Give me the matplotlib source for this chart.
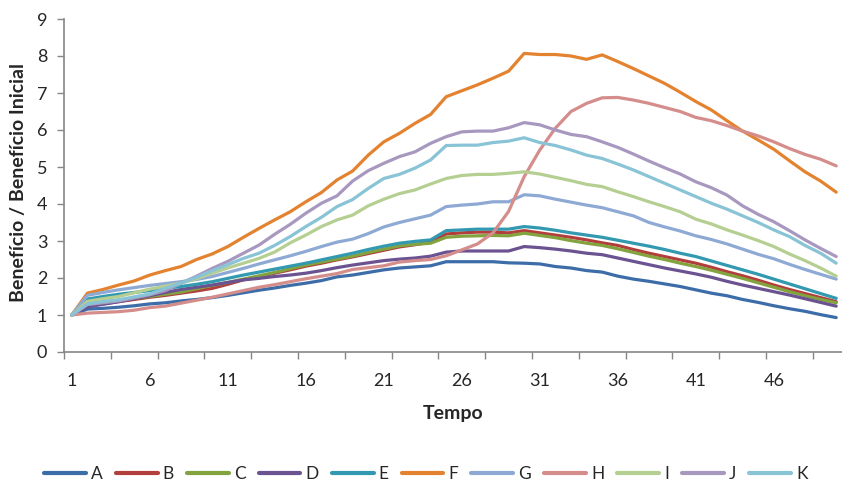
import numpy as np
import matplotlib
matplotlib.use("Agg")
import matplotlib.pyplot as plt

# ----------------------------------------
# Data
# ----------------------------------------
tempo = list(range(1, 51))
series_names = ["A", "B", "C", "D", "E", "F", "G", "H", "I", "J", "K"]

A = [1.00, 1.16, 1.18, 1.21, 1.25, 1.30, 1.33, 1.38, 1.42, 1.47,
     1.53, 1.60, 1.67, 1.73, 1.80, 1.86, 1.93, 2.03, 2.08, 2.15,
     2.22, 2.27, 2.30, 2.33, 2.44, 2.44, 2.44, 2.44, 2.41, 2.40,
     2.38, 2.31, 2.27, 2.20, 2.16, 2.05, 1.97, 1.91, 1.84, 1.77,
     1.68, 1.59, 1.52, 1.42, 1.34, 1.25, 1.17, 1.10, 1.01, 0.93]
B = [1.00, 1.25, 1.30, 1.36, 1.42, 1.48, 1.53, 1.59, 1.65, 1.72,
     1.83, 1.95, 2.04, 2.13, 2.22, 2.32, 2.40, 2.49, 2.57, 2.66,
     2.75, 2.84, 2.90, 2.97, 3.19, 3.22, 3.24, 3.24, 3.22, 3.28,
     3.22, 3.16, 3.10, 3.03, 2.95, 2.88, 2.77, 2.67, 2.58, 2.49,
     2.40, 2.29, 2.17, 2.06, 1.94, 1.81, 1.69, 1.58, 1.47, 1.36]
C = [1.00, 1.30, 1.35, 1.40, 1.45, 1.50, 1.56, 1.62, 1.71, 1.80,
     1.88, 1.97, 2.06, 2.15, 2.25, 2.35, 2.43, 2.51, 2.59, 2.69,
     2.78, 2.87, 2.91, 2.94, 3.10, 3.13, 3.14, 3.15, 3.14, 3.21,
     3.15, 3.09, 3.01, 2.94, 2.88, 2.79, 2.69, 2.59, 2.50, 2.40,
     2.31, 2.21, 2.10, 1.99, 1.87, 1.75, 1.63, 1.52, 1.42, 1.33]
D = [1.00, 1.22, 1.29, 1.36, 1.44, 1.52, 1.61, 1.69, 1.75, 1.81,
     1.88, 1.95, 1.99, 2.04, 2.08, 2.13, 2.20, 2.28, 2.35, 2.41,
     2.47, 2.51, 2.54, 2.59, 2.70, 2.73, 2.73, 2.73, 2.73, 2.85,
     2.82, 2.78, 2.73, 2.67, 2.63, 2.54, 2.45, 2.36, 2.27, 2.19,
     2.11, 2.02, 1.91, 1.81, 1.72, 1.63, 1.54, 1.44, 1.34, 1.24]
E = [1.00, 1.43, 1.50, 1.56, 1.61, 1.66, 1.72, 1.77, 1.83, 1.90,
     1.99, 2.08, 2.16, 2.24, 2.32, 2.40, 2.49, 2.58, 2.67, 2.77,
     2.86, 2.94, 2.99, 3.03, 3.28, 3.30, 3.32, 3.32, 3.32, 3.39,
     3.35, 3.29, 3.22, 3.16, 3.10, 3.02, 2.94, 2.86, 2.77, 2.67,
     2.58, 2.46, 2.34, 2.22, 2.10, 1.97, 1.84, 1.71, 1.58, 1.45]
F = [1.00, 1.59, 1.69, 1.81, 1.92, 2.08, 2.20, 2.31, 2.50, 2.65,
     2.85, 3.10, 3.34, 3.57, 3.79, 4.06, 4.31, 4.65, 4.89, 5.32,
     5.68, 5.91, 6.18, 6.42, 6.90, 7.06, 7.22, 7.40, 7.59, 8.07,
     8.04, 8.04, 8.00, 7.91, 8.03, 7.85, 7.66, 7.46, 7.26, 7.02,
     6.77, 6.54, 6.25, 5.97, 5.73, 5.48, 5.17, 4.87, 4.62, 4.32]
G = [1.00, 1.53, 1.61, 1.68, 1.74, 1.80, 1.85, 1.90, 1.96, 2.04,
     2.15, 2.26, 2.38, 2.49, 2.60, 2.72, 2.85, 2.97, 3.05, 3.20,
     3.38, 3.50, 3.60, 3.70, 3.93, 3.97, 4.00, 4.06, 4.06, 4.25,
     4.22, 4.13, 4.05, 3.97, 3.90, 3.79, 3.68, 3.50, 3.38, 3.27,
     3.14, 3.04, 2.92, 2.78, 2.64, 2.52, 2.37, 2.23, 2.10, 1.97]
H = [1.00, 1.05, 1.07, 1.09, 1.13, 1.20, 1.24, 1.32, 1.40, 1.48,
     1.57, 1.66, 1.75, 1.82, 1.90, 1.98, 2.05, 2.12, 2.23, 2.28,
     2.33, 2.43, 2.47, 2.50, 2.60, 2.76, 2.92, 3.22, 3.80, 4.74,
     5.46, 6.05, 6.50, 6.72, 6.87, 6.88, 6.81, 6.72, 6.61, 6.50,
     6.34, 6.25, 6.12, 5.97, 5.84, 5.68, 5.50, 5.34, 5.21, 5.03]
I = [1.00, 1.37, 1.44, 1.50, 1.60, 1.70, 1.78, 1.86, 1.98, 2.13,
     2.27, 2.40, 2.53, 2.70, 2.95, 3.16, 3.39, 3.57, 3.70, 3.95,
     4.13, 4.28, 4.38, 4.54, 4.69, 4.77, 4.80, 4.80, 4.83, 4.87,
     4.81, 4.72, 4.63, 4.53, 4.47, 4.33, 4.20, 4.06, 3.93, 3.79,
     3.59, 3.46, 3.30, 3.16, 3.01, 2.85, 2.65, 2.47, 2.27, 2.05]
J = [1.00, 1.28, 1.33, 1.38, 1.46, 1.55, 1.66, 1.86, 2.05, 2.26,
     2.45, 2.67, 2.89, 3.18, 3.45, 3.75, 4.02, 4.22, 4.62, 4.90,
     5.10, 5.28, 5.41, 5.64, 5.82, 5.95, 5.97, 5.97, 6.06, 6.20,
     6.14, 6.00, 5.88, 5.82, 5.68, 5.53, 5.35, 5.16, 4.98, 4.81,
     4.60, 4.44, 4.24, 3.95, 3.72, 3.52, 3.28, 3.03, 2.80, 2.58]
K = [1.00, 1.30, 1.36, 1.41, 1.49, 1.57, 1.72, 1.86, 2.02, 2.20,
     2.36, 2.53, 2.67, 2.88, 3.12, 3.39, 3.64, 3.93, 4.12, 4.42,
     4.69, 4.80, 4.97, 5.19, 5.58, 5.59, 5.59, 5.66, 5.70, 5.79,
     5.66, 5.58, 5.46, 5.32, 5.23, 5.08, 4.92, 4.74, 4.56, 4.38,
     4.20, 4.02, 3.86, 3.68, 3.50, 3.30, 3.12, 2.88, 2.67, 2.40]

x_labels = list(range(1, 50, 5))
y_ticks = list(range(0, 10))

# ----------------------------------------
# Style
# ----------------------------------------
colors = ["#3D6DA8", "#B23F3C", "#83A33F", "#6B5290", "#3399B0", "#E3822F",
          "#8EAAD4", "#D48D8B", "#B5CF92", "#A898C0", "#88C3D6"]
axis_gray = "#868686"
text_col = "#262626"
plt.rcParams["font.family"] = ["Lato", "DejaVu Sans"]

fig = plt.figure(figsize=(8.42, 4.87), dpi=100)
ax = fig.add_axes([64 / 842, 135 / 487, 778 / 842, 333 / 487])

all_series = [A, B, C, D, E, F, G, H, I, J, K]
for name, vals, col in zip(series_names, all_series, colors):
    ax.plot(tempo, vals, color=col, lw=2.3, label=name, solid_capstyle="round",
            solid_joinstyle="round")

ax.set_xlim(0.5, 0.5 + 778 / 15.6)
ax.set_ylim(0, 9)

# labels every 5 steps, tick marks every 3 categories (between points)
ax.set_xticks(x_labels)
ax.set_xticklabels([str(v) for v in x_labels])
ax.set_xticks(np.arange(0.5, 50.5, 3), minor=True)
ax.tick_params(axis="x", which="major", length=0, pad=15, labelsize=13, colors=text_col)
ax.tick_params(axis="x", which="minor", length=5, width=1, color=axis_gray, direction="out")
ax.set_yticks(y_ticks)
ax.tick_params(axis="y", length=5, width=1, color=axis_gray, labelsize=13,
               labelcolor=text_col, pad=7)

for s in ["top", "right"]:
    ax.spines[s].set_visible(False)
for s in ["left", "bottom"]:
    ax.spines[s].set_color(axis_gray)
    ax.spines[s].set_linewidth(1.2)

ax.set_xlabel("Tempo", fontsize=14, fontweight="bold", color=text_col)
ax.xaxis.set_label_coords((453 - 64) / 778, -(405 - 352) / 333)
ax.set_ylabel("Benefício / Benefício Inicial", fontsize=14, fontweight="bold",
              color=text_col)
ax.yaxis.set_label_coords(-(64 - 27) / 778, (352 - 182) / 333)

leg = ax.legend(loc="center", bbox_to_anchor=(426 / 842, 1 - 474 / 487),
                bbox_transform=fig.transFigure, ncol=11, frameon=False,
                fontsize=12.5, handlelength=2.4, handletextpad=0.3,
                columnspacing=0.75)
for t in leg.get_texts():
    t.set_color(text_col)
for h in leg.get_lines():
    h.set_linewidth(3)

fig.savefig("out.png", dpi=100)
